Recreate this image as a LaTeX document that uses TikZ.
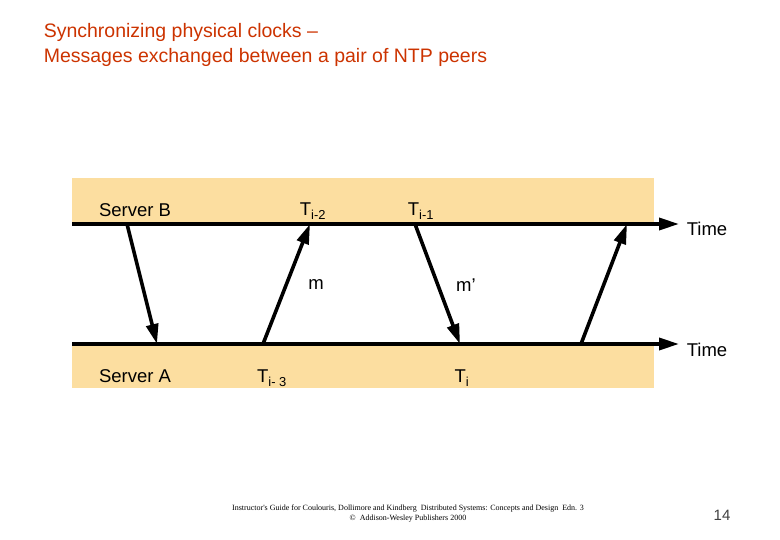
\documentclass[tikz,border=0pt]{standalone}
\usepackage{fontspec}
\setmainfont{Liberation Sans}
\newfontfamily\footfont{Liberation Serif}
\usetikzlibrary{arrows.meta,positioning}
\definecolor{band}{RGB}{252,222,160}
\definecolor{titlered}{RGB}{204,51,0}

\begin{document}
\begin{tikzpicture}[x=1pt, y=-1pt, >={Triangle[length=20pt,width=12pt]}, line width=3.6pt,
    lbl/.style={font=\fontsize{18.5}{21}\selectfont, inner sep=0pt}]
    \useasboundingbox (0,0) rectangle (780,540);
    % background bands
    \fill[band] (72,178) rectangle (654,224);
    \fill[band] (72,344) rectangle (654,388);

    % title
    \node[anchor=west, text=titlered, align=left, inner sep=0pt, font=\fontsize{19.5}{25}\selectfont] (title) at (42,45)
        {Synchronizing physical clocks --\\Messages exchanged between a pair of NTP peers};

    % time lines
    \coordinate (bstart) at (72,224);
    \coordinate (astart) at (72,344);
    \node[lbl, anchor=west] (timeb) at (685,229) {Time};
    \node[lbl, anchor=west] (timea) at (685,350) {Time};
    \draw[->] (bstart) -- (679,224);
    \draw[->] (astart) -- (679,344);

    % message end points
    \coordinate (b1) at (127,224);  \coordinate (a1) at (157,344);
    \coordinate (a2) at (263,344);  \coordinate (b2) at (310,224);
    \coordinate (b3) at (415,224);  \coordinate (a3) at (460,344);
    \coordinate (a4) at (581,344);  \coordinate (b4) at (627,224);

    \draw[->] (b1) -- (a1);
    \draw[->] (a2) -- (b2);
    \draw[->] (b3) -- (a3);
    \draw[->] (a4) -- (b4);

    % labels
    \node[lbl] (serverb) at (135,210) {Server B};
    \node[lbl] (servera) at (135,376) {Server A};
    \node[lbl] (ti2) at (313,211) {T\textsubscript{i-2}};
    \node[lbl] (ti1) at (421,211) {T\textsubscript{i-1}};
    \node[lbl] (msg) at (316,285) {m};
    \node[lbl] (msgp) at (466,285) {m'};
    \node[lbl] (ti3) at (272,378) {T\textsubscript{i- 3}};
    \node[lbl] (ti) at (462,378) {T\textsubscript{i}};

    % footer
    \node[align=center, font=\footfont\fontsize{8}{10}\selectfont] (footer) at (408,514)
        {Instructor's Guide for Coulouris, Dollimore and Kindberg\ \ Distributed Systems: Concepts and Design\ \ Edn. 3\\
         \textcopyright\ \ Addison-Wesley Publishers 2000};
    \node[font=\fontsize{15}{17}\selectfont, text=black!75] (page) at (722,515) {14};
\end{tikzpicture}
\end{document}
